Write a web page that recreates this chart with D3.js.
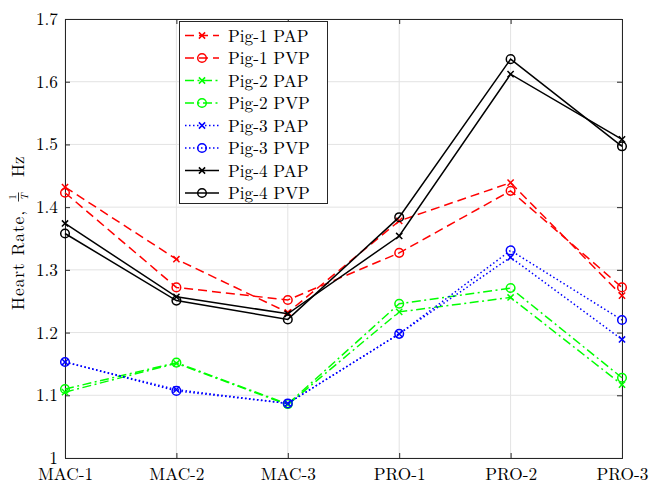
<!DOCTYPE html>
<html>
<head>
<meta charset="utf-8">
<script src="https://cdn.jsdelivr.net/npm/d3@7"></script>
<style>
  html, body { margin: 0; padding: 0; background: #fff; }
  svg { display: block; }
</style>
</head>
<body>
<svg id="chart" width="649" height="484"></svg>
<script>
// Experimental stages on the x axis
const stages = ["MAC-1", "MAC-2", "MAC-3", "PRO-1", "PRO-2", "PRO-3"];

// Heart rate (1/T Hz) estimated from arterial (PAP) and venous (PVP) pressure
const pig1PAP = [1.432, 1.317, 1.232, 1.378, 1.439, 1.259];
const pig1PVP = [1.423, 1.272, 1.252, 1.327, 1.426, 1.272];
const pig2PAP = [1.105, 1.151, 1.085, 1.233, 1.256, 1.117];
const pig2PVP = [1.110, 1.152, 1.086, 1.246, 1.271, 1.128];
const pig3PAP = [1.153, 1.109, 1.087, 1.198, 1.320, 1.189];
const pig3PVP = [1.153, 1.107, 1.087, 1.198, 1.331, 1.220];
const pig4PAP = [1.374, 1.257, 1.230, 1.354, 1.612, 1.508];
const pig4PVP = [1.358, 1.251, 1.221, 1.384, 1.636, 1.497];

const yTicks = [1, 1.1, 1.2, 1.3, 1.4, 1.5, 1.6, 1.7];

const series = [
  { name: "Pig-1 PAP", values: pig1PAP, color: "#ff0000", dash: "9,5",         marker: "x" },
  { name: "Pig-1 PVP", values: pig1PVP, color: "#ff0000", dash: "9,5",         marker: "o" },
  { name: "Pig-2 PAP", values: pig2PAP, color: "#00ff00", dash: "9,3.5,2,3.5", marker: "x" },
  { name: "Pig-2 PVP", values: pig2PVP, color: "#00ff00", dash: "9,3.5,2,3.5", marker: "o" },
  { name: "Pig-3 PAP", values: pig3PAP, color: "#0000ff", dash: "1.5,2.5",     marker: "x" },
  { name: "Pig-3 PVP", values: pig3PVP, color: "#0000ff", dash: "1.5,2.5",     marker: "o" },
  { name: "Pig-4 PAP", values: pig4PAP, color: "#000000", dash: null,          marker: "x" },
  { name: "Pig-4 PVP", values: pig4PVP, color: "#000000", dash: null,          marker: "o" }
];

const FONT = '"Latin Modern Roman", "CMU Serif", "Liberation Serif", serif';

const svg = d3.select("#chart");
const m = { left: 65, right: 622, top: 19, bottom: 458 };

const x = d3.scalePoint().domain(stages).range([m.left, m.right]);
const y = d3.scaleLinear().domain([1, 1.7]).range([m.bottom, m.top]);

const axisColor = "#262626";
const gridColor = "#e3e3e3";

// grid
const grid = svg.append("g");
grid.selectAll("line.gx").data(stages).join("line")
  .attr("x1", d => x(d)).attr("x2", d => x(d))
  .attr("y1", m.top).attr("y2", m.bottom)
  .attr("stroke", gridColor).attr("stroke-width", 1);
grid.selectAll("line.gy").data(yTicks).join("line")
  .attr("x1", m.left).attr("x2", m.right)
  .attr("y1", d => y(d)).attr("y2", d => y(d))
  .attr("stroke", gridColor).attr("stroke-width", 1);

// axes (ticks point inward, box on)
const tickLen = 5;
const xAxisB = d3.axisBottom(x).tickSize(-tickLen).tickPadding(10);
const xAxisT = d3.axisTop(x).tickSize(-tickLen).tickFormat("");
const yAxisL = d3.axisLeft(y).tickValues(yTicks).tickSize(-tickLen).tickPadding(7).tickFormat(d3.format(".1~f"));
const yAxisR = d3.axisRight(y).tickValues(yTicks).tickSize(-tickLen).tickFormat("");

function styleAxis(g) {
  g.attr("font-family", null).attr("font-size", null);
  g.select(".domain").attr("stroke", axisColor).attr("stroke-width", 1);
  g.selectAll(".tick line").attr("stroke", axisColor).attr("stroke-width", 1);
  g.selectAll(".tick text")
    .style("font-family", FONT).style("font-size", "17.3px").attr("fill", "#000");
}
svg.append("g").attr("transform", `translate(0,${m.bottom})`).call(xAxisB).call(styleAxis);
svg.append("g").attr("transform", `translate(0,${m.top})`).call(xAxisT).call(styleAxis);
svg.append("g").attr("transform", `translate(${m.left},0)`).call(yAxisL).call(styleAxis);
svg.append("g").attr("transform", `translate(${m.right},0)`).call(yAxisR).call(styleAxis);

// markers
function drawMarker(g, type, color, cx, cy) {
  if (type === "x") {
    const r = 3.1;
    g.append("path")
      .attr("d", `M${cx - r},${cy - r}L${cx + r},${cy + r}M${cx - r},${cy + r}L${cx + r},${cy - r}`)
      .attr("stroke", color).attr("stroke-width", 1.5).attr("fill", "none");
  } else {
    g.append("circle").attr("cx", cx).attr("cy", cy).attr("r", 4.3)
      .attr("stroke", color).attr("stroke-width", 1.5).attr("fill", "none");
  }
}

// series lines
const line = d3.line().x((d, i) => x(stages[i])).y(d => y(d));
const plot = svg.append("g");
series.forEach(s => {
  const g = plot.append("g");
  g.append("path").datum(s.values)
    .attr("d", line)
    .attr("fill", "none")
    .attr("stroke", s.color)
    .attr("stroke-width", 1.5)
    .attr("stroke-dasharray", s.dash);
  s.values.forEach((v, i) => drawMarker(g, s.marker, s.color, x(stages[i]), y(v)));
});

// legend
const lg = svg.append("g");
const lgBox = { x: 179.5, y: 21.5, w: 148, h: 182 };
lg.append("rect").attr("x", lgBox.x).attr("y", lgBox.y).attr("width", lgBox.w).attr("height", lgBox.h)
  .attr("fill", "#fff").attr("stroke", axisColor).attr("stroke-width", 1);
series.forEach((s, i) => {
  const cy = 35.5 + i * 22.5;
  lg.append("line").attr("x1", 185).attr("x2", 219).attr("y1", cy).attr("y2", cy)
    .attr("stroke", s.color).attr("stroke-width", 1.5).attr("stroke-dasharray", s.dash);
  drawMarker(lg, s.marker, s.color, 202, cy);
  lg.append("text").attr("x", 228).attr("y", cy + 6)
    .style("font-family", FONT).style("font-size", "17.3px").attr("fill", "#000")
    .text(s.name);
});

// y-axis label: "Heart Rate, 1/T Hz" with a stacked fraction
const yl = svg.append("g").attr("transform", "translate(24,235) rotate(-90)");
const t1 = yl.append("text")
  .style("font-family", FONT).style("font-size", "17.3px").style("letter-spacing", "1px")
  .attr("x", -75).attr("y", 0).text("Heart Rate,");
const fracC = 38, fracW = 9;
yl.append("text").style("font-family", FONT).style("font-size", "10px")
  .attr("text-anchor", "middle").attr("x", fracC).attr("y", -8).text("1");
yl.append("line").attr("x1", fracC - fracW / 2).attr("x2", fracC + fracW / 2)
  .attr("y1", -5.5).attr("y2", -5.5).attr("stroke", "#000").attr("stroke-width", 0.8);
yl.append("text").style("font-family", FONT).style("font-size", "10px").style("font-style", "italic")
  .attr("text-anchor", "middle").attr("x", fracC).attr("y", 3.5).text("T");
yl.append("text").style("font-family", FONT).style("font-size", "17.3px")
  .attr("x", 58).attr("y", 0).text("Hz");
</script>
</body>
</html>
